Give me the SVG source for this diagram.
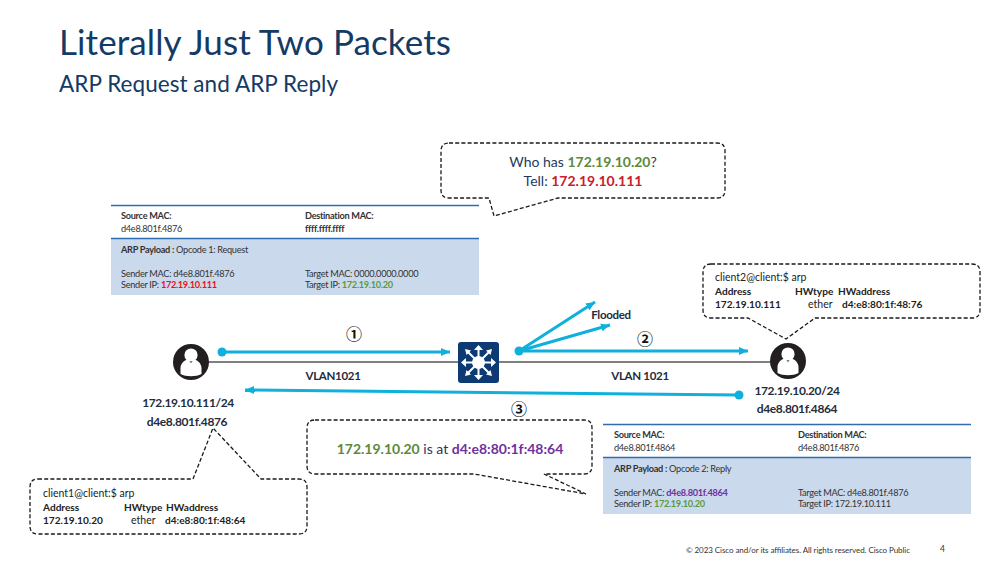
<svg xmlns="http://www.w3.org/2000/svg" width="999" height="561" viewBox="0 0 999 561">
<style>
text{font-family:"Lato","Liberation Sans",sans-serif;fill:#1d2a3a}
.t{font-size:9.200px;letter-spacing:-.3px;fill:#333}
.k{font-size:10.500px;fill:#222}
.k.b{font-size:10.100px}
.b{font-weight:700}
.lab{font-size:11.500px;letter-spacing:-.3px;font-weight:700;text-anchor:middle;fill:#1f2d3d}
.lab2{font-size:12px;letter-spacing:-.37px}
.c{font-size:14px;fill:#1f3a5c;text-anchor:middle}
.dash{fill:#fff;stroke:#1a1a1a;stroke-width:1.300;stroke-dasharray:4 2.200}
.fl{stroke:#0fb0dc;stroke-width:3;fill:none}
.num{font-family:"Noto Sans CJK JP","DejaVu Sans",sans-serif;font-size:16px;font-weight:700;text-anchor:middle;fill:#111}
.r{fill:#e8111c;font-weight:700}.g{fill:#5b9a3c;font-weight:700}.p{fill:#7030a0;font-weight:700}
</style>
<defs>
<marker id="ah" markerUnits="userSpaceOnUse" markerWidth="10" markerHeight="10" refX="9" refY="5" orient="auto"><path d="M0 1L9 5L0 9Z" fill="#0fb0dc"/></marker>
<g id="person"><circle r="18" fill="#231f20"/><circle cy="-7" r="6.600" fill="#fff"/><path d="M-10.500 12V6C-10.500 1-6-2-3-2.500L0 1L3-2.500C6-2 10.500 1 10.500 6V12C5 15-5 15-10.500 12Z" fill="#fff"/></g>
</defs>
<text x="59" y="55" font-size="35" style="fill:#143a66" textLength="392">Literally Just Two Packets</text>
<text x="59" y="92" font-size="22.500" style="fill:#143a66" textLength="279">ARP Request and ARP Reply</text>

<g id="packet1">
<rect x="111" y="238" width="368" height="57" fill="#cbd9ec"/>
<path d="M111 205.500H479M111 238.500H479" stroke="#2f6db3" stroke-width="1.500"/>
<text class="t b" x="121" y="219">Source MAC:</text><text class="t" x="121" y="232">d4e8.801f.4876</text>
<text class="t b" x="305" y="219">Destination MAC:</text><text class="t b" x="305" y="232">ffff.ffff.ffff</text>
<text class="t" x="121" y="253"><tspan class="b">ARP Payload :</tspan> Opcode 1: Request</text>
<text class="t" x="121" y="277">Sender MAC: d4e8.801f.4876</text>
<text class="t" x="121" y="288">Sender IP: <tspan class="r">172.19.10.111</tspan></text>
<text class="t" x="305" y="277">Target MAC: 0000.0000.0000</text>
<text class="t" x="305" y="288">Target IP: <tspan class="g">172.19.10.20</tspan></text>
</g>

<g id="callout-request">
<path class="dash" d="M449 143H717Q725 143 725 151V190Q725 198 717 198H558L494 216L489 198H449Q441 198 441 190V151Q441 143 449 143Z"/>
<text class="c" x="583" y="167">Who has <tspan class="g" style="fill:#5b8a3c">172.19.10.20</tspan>?</text>
<text class="c" x="583" y="186">Tell: <tspan class="r" style="fill:#c8202a">172.19.10.111</tspan></text>
</g>

<g id="connectors">
<path d="M191 362H788" stroke="#808080" stroke-width="2" fill="none"/>
<circle cx="222" cy="352" r="4.500" fill="#0fb0dc"/>
<path class="fl" d="M222 352H450" marker-end="url(#ah)"/>
<circle cx="519" cy="351" r="4.500" fill="#0fb0dc"/>
<path class="fl" d="M519 351H748" marker-end="url(#ah)"/>
<path class="fl" d="M519 351L595 302" marker-end="url(#ah)"/>
<path class="fl" d="M519 351L610 325" marker-end="url(#ah)"/>
<circle cx="739" cy="395" r="4.500" fill="#0fb0dc"/>
<path class="fl" d="M739 395L245 390" marker-end="url(#ah)"/>
</g>

<text class="num" x="354" y="340">①</text>
<text class="num" x="645" y="345">②</text>
<text class="num" x="519" y="415">③</text>
<text class="lab" x="333" y="380">VLAN1021</text>
<text class="lab" x="640" y="380">VLAN 1021</text>
<text class="lab" x="611" y="319">Flooded</text>

<g id="switch">
<rect x="458" y="342" width="41" height="41" rx="3" fill="#0d3a72"/>
<circle cx="478.500" cy="362.500" r="6.500" fill="#fff"/>
<g stroke="#fff" stroke-width="2" fill="#fff">
<path d="M478.500 362.500V348M478.500 362.500V377M478.500 362.500H464M478.500 362.500H493M478.500 362.500L467 351M478.500 362.500L490 351M478.500 362.500L467 374M478.500 362.500L490 374" fill="none"/>
<path stroke-width="0" d="M478.500 345L474 350H483ZM478.500 380L474 375H483ZM461 362.500L466 358V367ZM496 362.500L491 358V367ZM465 349L471 350.500L466.500 355ZM492 349L486 350.500L490.500 355ZM465 376L466.500 370L471 374.500ZM492 376L490.500 370L486 374.500Z"/>
</g>
</g>

<g id="client1">
<use href="#person" x="191" y="362"/>
<text class="lab lab2" x="188" y="407">172.19.10.111/24</text>
<text class="lab lab2" x="187" y="426">d4e8.801f.4876</text>
</g>
<g id="client2">
<use href="#person" x="788" y="361"/>
<text class="lab lab2" x="797" y="395">172.19.10.20/24</text>
<text class="lab lab2" x="797" y="413">d4e8.801f.4864</text>
</g>

<g id="callout-client2">
<path class="dash" d="M711 264H972Q980 264 980 272V310Q980 318 972 318H815L786 339L748 318H711Q703 318 703 310V272Q703 264 711 264Z"/>
<text class="k" x="715" y="281">client2@client:$ arp</text>
<text class="k b" x="715" y="295">Address</text><text class="k b" x="795" y="295">HWtype</text><text class="k b" x="838" y="295">HWaddress</text>
<text class="k b" x="715" y="308">172.19.10.111</text><text class="k" x="808" y="308">ether</text><text class="k b" x="842" y="308">d4:e8:80:1f:48:76</text>
</g>

<g id="callout-client1">
<path class="dash" d="M38 479H193L213 428L261 479H299Q307 479 307 487V526Q307 534 299 534H38Q30 534 30 526V487Q30 479 38 479Z"/>
<text class="k" x="43" y="497">client1@client:$ arp</text>
<text class="k b" x="43" y="511">Address</text><text class="k b" x="124" y="511">HWtype</text><text class="k b" x="166" y="511">HWaddress</text>
<text class="k b" x="43" y="524">172.19.10.20</text><text class="k" x="131" y="524">ether</text><text class="k b" x="165" y="524">d4:e8:80:1f:48:64</text>
</g>

<g id="callout-reply">
<path class="dash" d="M315 420H584Q592 420 592 428V466Q592 474 584 474H544L586 494L474 474H315Q307 474 307 466V428Q307 420 315 420Z"/>
<text class="c" x="450" y="454"><tspan class="g" style="fill:#5b8a3c">172.19.10.20</tspan> is at <tspan class="p">d4:e8:80:1f:48:64</tspan></text>
</g>

<g id="packet2">
<rect x="603" y="457" width="368" height="57" fill="#cbd9ec"/>
<path d="M603 424.500H971M603 457.500H971" stroke="#2f6db3" stroke-width="1.500"/>
<text class="t b" x="614" y="438">Source MAC:</text><text class="t" x="614" y="451">d4e8.801f.4864</text>
<text class="t b" x="798" y="438">Destination MAC:</text><text class="t" x="798" y="451">d4e8.801f.4876</text>
<text class="t" x="614" y="472"><tspan class="b">ARP Payload :</tspan> Opcode 2: Reply</text>
<text class="t" x="614" y="496">Sender MAC: <tspan class="p">d4e8.801f.4864</tspan></text>
<text class="t" x="614" y="507">Sender IP: <tspan class="g">172.19.10.20</tspan></text>
<text class="t" x="798" y="496">Target MAC: d4e8.801f.4876</text>
<text class="t" x="798" y="507">Target IP: 172.19.10.111</text>
</g>

<text x="686" y="553" font-size="8" style="fill:#333" textLength="224">© 2023  Cisco and/or its affiliates. All rights reserved.   Cisco Public</text>
<text x="940" y="552" font-size="8.500" style="fill:#333">4</text>
</svg>
